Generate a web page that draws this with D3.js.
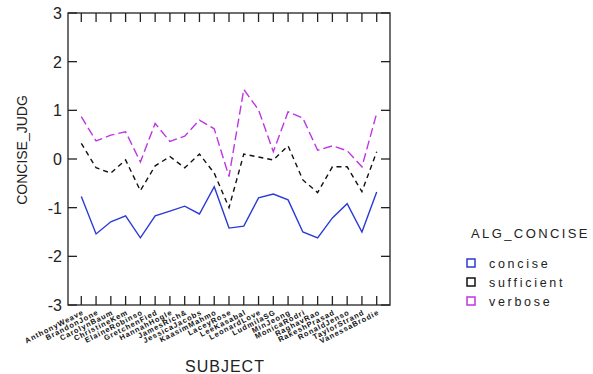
<!DOCTYPE html>
<html><head><meta charset="utf-8">
<script src="https://cdn.jsdelivr.net/npm/d3@7"></script>
<style>body{margin:0;background:#fff}svg{display:block;font-family:"Liberation Sans",Arial,sans-serif}</style>
</head><body><svg id="c" width="593" height="374"></svg>
<script>
const subjects = ["AnthonyWeave","BrandonJone","CarolynBaum","ChristineKem","ElaineRobinso","GretchenFied","HannahHogle","JamesRich&","JessicaJacobs","KaasimMahmo","LaceyRose","LeeKasabal","LeonardLove","LudmilaSG","MinJeong","MonicaRodri","RaghavRao","RakeshPrasad","RonaldJenso","TaylorStrand","VanessaBrodie"];
const concise    = [-0.77,-1.54,-1.29,-1.17,-1.62,-1.17,-1.07,-0.97,-1.13,-0.57,-1.42,-1.38,-0.80,-0.72,-0.84,-1.50,-1.62,-1.21,-0.92,-1.50,-0.68];
const sufficient = [0.32,-0.18,-0.29,-0.02,-0.65,-0.14,0.05,-0.18,0.10,-0.29,-1.00,0.10,0.04,-0.02,0.27,-0.43,-0.69,-0.16,-0.16,-0.67,0.15];
const verbose    = [0.87,0.37,0.49,0.56,-0.06,0.73,0.36,0.47,0.80,0.62,-0.36,1.43,1.01,0.15,0.97,0.84,0.18,0.27,0.17,-0.16,0.94];
const yTicks = [-3,-2,-1,0,1,2,3];
const seriesNames = ["concise","sufficient","verbose"];

const svg = d3.select("#c");
const L=68,R=390,T=13,B=305;
const x = d3.scalePoint().domain(subjects).range([L,R]).padding(0.9);
const y = d3.scaleLinear().domain([-3,3]).range([B,T]);
const styles = {
  concise:{color:"#2a3ad6",dash:null},
  sufficient:{color:"#111",dash:"5,4"},
  verbose:{color:"#c034e4",dash:"9,4"}
};
const data = {concise, sufficient, verbose};

svg.append("rect").attr("x",L).attr("y",T).attr("width",R-L).attr("height",B-T)
  .attr("fill","none").attr("stroke","#222").attr("stroke-width",1.3);

const tl=9;
const gAx = svg.append("g").attr("stroke","#222").attr("stroke-width",1.3);
yTicks.forEach(v=>{
  gAx.append("line").attr("x1",L).attr("x2",L+tl).attr("y1",y(v)).attr("y2",y(v));
  gAx.append("line").attr("x1",R).attr("x2",R-tl).attr("y1",y(v)).attr("y2",y(v));
});
subjects.forEach(s=>{
  gAx.append("line").attr("x1",x(s)).attr("x2",x(s)).attr("y1",B).attr("y2",B-tl);
  gAx.append("line").attr("x1",x(s)).attr("x2",x(s)).attr("y1",T).attr("y2",T+tl);
});
svg.append("g").selectAll("text").data(yTicks).join("text")
  .attr("x",62).attr("y",d=>y(d)+6).attr("text-anchor","end")
  .attr("font-size",16).attr("fill","#222").text(d=>d);

svg.append("g").selectAll("text").data(subjects).join("text")
  .attr("transform",d=>`translate(${x(d)+3},${B+9}) rotate(-27)`)
  .attr("text-anchor","end").attr("font-size",7.5).attr("font-weight","bold")
  .attr("letter-spacing",0.9).attr("fill","#111").text(d=>d);

svg.append("text").attr("x",225).attr("y",372).attr("text-anchor","middle")
  .attr("font-size",16).attr("letter-spacing",1).attr("fill","#222").text("SUBJECT");
svg.append("text").attr("transform","translate(27,150) rotate(-90)").attr("text-anchor","middle")
  .attr("font-size",14).attr("fill","#222").text("CONCISE_JUDG");

const line = d3.line().x((d,i)=>x(subjects[i])).y(d=>y(d));
seriesNames.forEach(n=>{
  svg.append("path").attr("d",line(data[n])).attr("fill","none")
    .attr("stroke",styles[n].color).attr("stroke-width",1.4)
    .attr("stroke-dasharray",styles[n].dash);
});

svg.append("text").attr("x",471).attr("y",238).attr("font-size",13).attr("letter-spacing",2.4)
  .attr("fill","#222").text("ALG_CONCISE");
seriesNames.forEach((n,i)=>{
  const cy=263+i*19;
  svg.append("rect").attr("x",467).attr("y",cy-4).attr("width",8).attr("height",8)
    .attr("fill","none").attr("stroke",styles[n].color).attr("stroke-width",1.5);
  svg.append("text").attr("x",489).attr("y",cy+4.5).attr("font-size",12.5).attr("letter-spacing",2.7)
    .attr("fill","#222").text(n);
});
</script></body></html>
